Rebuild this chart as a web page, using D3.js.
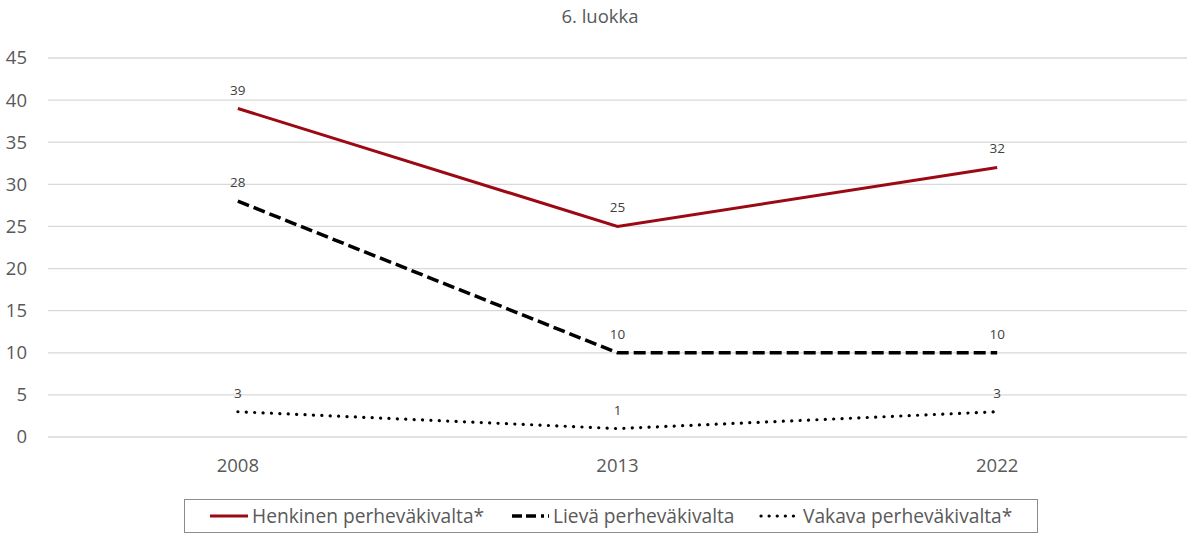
<!DOCTYPE html>
<html><head><meta charset="utf-8">
<script src="https://cdn.jsdelivr.net/npm/d3@7"></script>
<style>body{margin:0;background:#fff;}svg{display:block;font-family:"Open Sans",sans-serif;}</style>
</head><body>
<svg id="c" width="1200" height="537"></svg>
<script>
const title = "6. luokka";
const categories = ["2008", "2013", "2022"];
const seriesNames = ["Henkinen perheväkivalta*", "Lievä perheväkivalta", "Vakava perheväkivalta*"];
const henkinen = [39, 25, 32];
const lieva = [28, 10, 10];
const vakava = [3, 1, 3];
const yTicks = [0, 5, 10, 15, 20, 25, 30, 35, 40, 45];

(function () {
const series = [
  {name: seriesNames[0], values: henkinen, color: "#9B0A14", width: 3, dash: null, cap: "butt", ldash: null},
  {name: seriesNames[1], values: lieva, color: "#000", width: 3.5, dash: "12,5", cap: "butt", ldash: "10,4,10,5,3,4"},
  {name: seriesNames[2], values: vakava, color: "#000", width: 3.2, dash: "0.1,8.3", cap: "round", ldash: "0.1,8"}
];

const svg = d3.select("#c");
const pLeft = 48, pRight = 1187, pTop = 58, pBottom = 437;
const x = d3.scaleBand().domain(categories).range([pLeft, pRight]);
const y = d3.scaleLinear().domain([0, 45]).range([pBottom, pTop]);

svg.append("text").attr("x", 600).attr("y", 23).attr("text-anchor", "middle")
  .attr("font-size", 18.5).attr("fill", "#595959").text(title);

svg.append("g").selectAll("line").data(yTicks).join("line")
  .attr("x1", pLeft).attr("x2", pRight)
  .attr("y1", d => y(d)).attr("y2", d => y(d))
  .attr("stroke", "#d9d9d9").attr("stroke-width", 1.3);

svg.append("g").selectAll("text").data(yTicks).join("text")
  .attr("x", 27).attr("y", d => y(d)).attr("dy", "0.35em")
  .attr("text-anchor", "end").attr("font-size", 18.5).attr("fill", "#595959")
  .text(d => d);

svg.append("g").selectAll("text").data(categories).join("text")
  .attr("x", d => x(d) + x.bandwidth() / 2).attr("y", 472)
  .attr("text-anchor", "middle").attr("font-size", 18.5).attr("fill", "#595959")
  .text(d => d);

const line = d3.line().x((d, i) => x(categories[i]) + x.bandwidth() / 2).y(d => y(d));

series.forEach(s => {
  svg.append("path").datum(s.values).attr("d", line)
    .attr("fill", "none").attr("stroke", s.color).attr("stroke-width", s.width)
    .attr("stroke-dasharray", s.dash).attr("stroke-linecap", s.cap);
  svg.append("g").selectAll("text").data(s.values).join("text")
    .attr("x", (d, i) => x(categories[i]) + x.bandwidth() / 2)
    .attr("y", d => y(d) - 14)
    .attr("text-anchor", "middle").attr("font-size", 13.5).attr("fill", "#404040")
    .text(d => d);
});

svg.append("rect").attr("x", 184.5).attr("y", 499.5).attr("width", 853).attr("height", 33)
  .attr("fill", "#fff").attr("stroke", "#8c8c8c").attr("stroke-width", 1);
const legendPos = [[210, 248, 252], [512, 549, 553], [761, 801, 803]];
series.forEach((s, i) => {
  const [lx, lx2, tx] = legendPos[i];
  svg.append("line").attr("x1", lx).attr("x2", lx2).attr("y1", 516).attr("y2", 516)
    .attr("stroke", s.color).attr("stroke-width", s.width)
    .attr("stroke-dasharray", s.ldash)
    .attr("stroke-linecap", s.cap);
  svg.append("text").attr("x", tx).attr("y", 516).attr("dy", "0.35em")
    .attr("font-size", 19.2).attr("fill", "#595959").text(s.name);
});
})();
</script>
</body></html>
